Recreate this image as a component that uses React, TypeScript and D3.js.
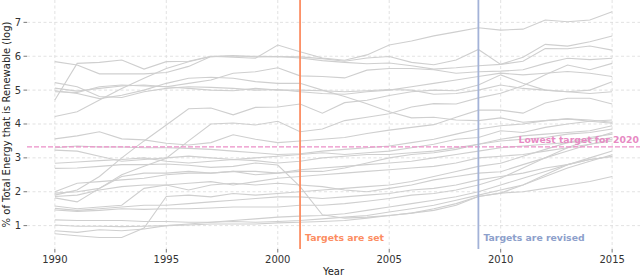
import * as d3 from "d3";

const years = [
  1990, 1991, 1992, 1993, 1994, 1995, 1996, 1997, 1998, 1999, 2000, 2001, 2002,
  2003, 2004, 2005, 2006, 2007, 2008, 2009, 2010, 2011, 2012, 2013, 2014, 2015,
];

// log2 of renewable share, one array per country, 1990..2015
const s01 = [4.71, 5.79, 5.82, 5.89, 5.62, 5.84, 5.85, 6.0, 5.97, 5.94, 6.33, 6.13, 5.95, 5.88, 6.04, 6.33, 6.45, 6.6, 6.72, 6.84, 6.77, 6.8, 7.07, 7.02, 7.07, 7.31];
const s02 = [5.84, 5.74, 5.48, 5.48, 5.48, 5.52, 5.7, 5.99, 6.0, 6.0, 5.99, 5.98, 5.93, 5.85, 5.95, 5.99, 5.82, 5.75, 5.89, 6.2, 5.76, 5.97, 6.35, 6.3, 6.43, 6.6];
const s03 = [4.22, 4.36, 4.71, 5.05, 5.35, 5.64, 5.84, 5.99, 6.02, 5.98, 5.99, 5.95, 5.87, 5.82, 5.78, 5.8, 5.72, 5.62, 5.66, 5.72, 5.76, 5.85, 6.23, 6.22, 6.3, 6.18];
const s04 = [5.22, 5.1, 4.81, 4.78, 4.95, 5.05, 5.1, 5.08, 5.05, 5.0, 5.02, 4.95, 4.9, 4.88, 4.95, 5.0, 5.1, 5.2, 5.3, 5.4, 5.5, 5.45, 5.5, 5.55, 5.5, 5.4];
const s05 = [5.06, 4.97, 5.05, 5.12, 5.15, 5.1, 5.05, 5.0, 4.98, 5.05, 5.0, 5.0, 4.98, 4.95, 4.98, 5.02, 5.0, 4.88, 4.9, 5.0, 5.15, 5.05, 5.0, 4.95, 4.9, 4.95];
const s06 = [4.95, 4.93, 5.1, 5.15, 5.12, 5.1, 5.2, 5.3, 5.5, 5.54, 5.66, 5.42, 5.4, 5.36, 5.59, 5.64, 5.64, 5.6, 5.5, 5.54, 5.56, 5.6, 5.79, 5.94, 5.9, 5.94];
const s07 = [4.98, 4.9, 4.75, 4.85, 5.0, 5.2, 5.35, 5.38, 5.35, 5.25, 5.2, 5.2, 5.0, 4.81, 4.6, 4.36, 4.18, 4.2, 4.12, 4.1, 4.18, 4.05, 4.1, 4.15, 4.08, 4.02];
const s08 = [1.9, 2.05, 2.45, 3.0, 3.5, 3.97, 4.45, 4.47, 4.27, 4.49, 4.5, 4.59, 4.32, 4.63, 4.7, 4.84, 4.95, 5.0, 4.98, 5.15, 5.45, 5.2, 5.0, 4.95, 5.0, 5.25];
const s09 = [1.82, 1.7, 2.1, 2.5, 2.75, 2.99, 3.5, 4.0, 4.03, 3.97, 4.08, 3.77, 3.85, 4.1, 4.2, 4.3, 4.5, 4.6, 4.59, 4.77, 4.91, 5.13, 5.45, 5.74, 5.6, 5.79];
const s10 = [3.56, 3.65, 3.77, 3.56, 3.53, 3.43, 3.38, 3.45, 3.68, 3.55, 3.45, 3.5, 3.55, 3.6, 3.72, 3.82, 3.9, 3.98, 4.2, 4.41, 4.41, 4.32, 4.62, 4.76, 4.76, 4.59];
const s11 = [3.3, 3.35, 3.32, 3.32, 3.3, 3.3, 3.28, 3.25, 3.2, 3.15, 3.1, 3.12, 3.2, 3.25, 3.3, 3.35, 3.45, 3.55, 3.7, 3.85, 3.95, 4.0, 4.1, 4.15, 4.12, 4.05];
const s12 = [3.23, 3.2, 3.05, 2.9, 2.95, 3.0, 3.05, 3.0, 2.95, 3.0, 3.05, 3.1, 3.15, 3.1, 3.15, 3.2, 3.3, 3.4, 3.55, 3.6, 3.8, 3.75, 3.9, 4.0, 4.08, 4.12];
const s13 = [2.84, 2.88, 2.92, 2.95, 3.0, 2.9, 2.85, 2.9, 2.95, 2.92, 2.85, 2.9, 3.0, 3.05, 3.1, 3.1, 3.15, 3.2, 3.3, 3.4, 3.5, 3.55, 3.6, 3.7, 3.75, 3.85];
const s14 = [2.69, 2.7, 2.75, 2.8, 2.8, 2.82, 2.78, 2.72, 2.75, 2.85, 2.79, 2.15, 1.32, 1.22, 1.25, 1.3, 1.37, 1.5, 1.65, 1.86, 1.96, 2.0, 2.1, 2.2, 2.3, 2.45];
const s15 = [2.0, 2.25, 2.3, 2.35, 2.4, 2.5, 2.55, 2.55, 2.6, 2.6, 2.55, 2.65, 2.7, 2.75, 2.8, 2.85, 2.9, 3.0, 3.1, 3.2, 3.3, 3.35, 3.4, 3.45, 3.5, 3.6];
const s16 = [1.96, 2.0, 2.1, 2.45, 2.55, 2.55, 2.6, 2.55, 2.6, 2.5, 2.55, 2.6, 2.6, 2.7, 2.85, 3.0, 3.1, 3.15, 3.25, 3.4, 3.55, 3.65, 3.7, 3.75, 3.8, 3.95];
const s17 = [1.86, 1.9, 2.05, 2.15, 2.2, 2.2, 2.25, 2.3, 2.2, 2.3, 2.4, 2.45, 2.5, 2.55, 2.6, 2.65, 2.7, 2.75, 2.85, 3.0, 3.05, 3.1, 3.2, 3.3, 3.4, 3.5];
const s18 = [1.58, 1.5, 1.55, 1.6, 2.1, 2.2, 2.05, 2.2, 2.25, 2.2, 2.25, 2.2, 2.15, 2.05, 2.0, 2.1, 2.2, 2.35, 2.45, 2.55, 2.59, 2.8, 3.0, 3.2, 3.4, 3.55];
const s19 = [1.51, 1.45, 1.5, 1.55, 1.6, 1.6, 1.65, 1.7, 1.75, 1.8, 1.85, 1.85, 1.8, 1.85, 1.9, 1.95, 2.05, 2.1, 2.2, 2.35, 2.45, 2.55, 2.7, 2.8, 2.95, 3.04];
const s20 = [1.46, 1.42, 1.45, 1.5, 1.48, 1.5, 1.5, 1.52, 1.55, 1.55, 1.55, 1.6, 1.6, 1.65, 1.72, 1.8, 1.9, 1.95, 2.05, 2.2, 2.4, 2.7, 3.0, 3.3, 3.55, 3.75];
const s21 = [1.17, 1.15, 1.15, 1.15, 1.12, 1.12, 1.1, 1.1, 1.12, 1.1, 1.12, 1.15, 1.2, 1.25, 1.3, 1.4, 1.5, 1.6, 1.75, 1.9, 2.05, 2.2, 2.45, 2.7, 2.9, 3.09];
const s22 = [1.02, 0.98, 0.98, 0.97, 0.98, 1.0, 1.02, 1.05, 1.05, 1.05, 1.08, 1.1, 1.12, 1.15, 1.22, 1.3, 1.37, 1.45, 1.6, 1.86, 1.96, 2.2, 2.5, 2.8, 3.0, 3.2];
const s23 = [0.85, 0.8, 0.88, 0.85, 0.9, 1.0, 1.05, 1.1, 1.15, 1.2, 1.25, 1.28, 1.3, 1.35, 1.45, 1.55, 1.65, 1.75, 1.85, 2.0, 2.2, 2.4, 2.6, 2.8, 2.95, 3.04];
const s24 = [0.76, 0.7, 0.65, 0.65, 0.93, 1.86, 1.9, 1.85, 1.95, 1.9, 1.95, 2.0, 2.05, 2.1, 2.15, 2.2, 2.3, 2.45, 2.6, 2.75, 2.84, 3.05, 3.25, 3.45, 3.6, 3.7];

const seriesList = [s01, s02, s03, s04, s05, s06, s07, s08, s09, s10, s11, s12, s13, s14, s15, s16, s17, s18, s19, s20, s21, s22, s23, s24];

const xTicks = [1990, 1995, 2000, 2005, 2010, 2015];
const yTicks = [1, 2, 3, 4, 5, 6, 7];

const targetsSetYear = 2001;
const targetsRevisedYear = 2009;
const lowestTarget2020 = Math.log2(10);

export default function App() {
  const width = 640;
  const height = 276;
  const margin = { top: 0, right: 0, bottom: 27, left: 27 };
  const font = "DejaVu Sans, sans-serif";

  const x = d3
    .scaleLinear()
    .domain([1988.75, 2016.25])
    .range([margin.left, width - margin.right]);
  const y = d3
    .scaleLinear()
    .domain([0.31, 7.66])
    .range([height - margin.bottom, margin.top]);

  const line = d3
    .line<number>()
    .x((_, i) => x(years[i]))
    .y((d) => y(d));

  const bottom = height - margin.bottom;

  return (
    <svg
      width={width}
      height={height}
      style={{ position: "absolute", left: 0, top: 0, background: "#fff" }}
      fontFamily={font}
    >
      {/* grid */}
      <g stroke="#dadada" strokeWidth={0.8} strokeDasharray="3,2.5">
        {yTicks.map((t) => (
          <line key={"gy" + t} x1={margin.left} x2={width} y1={y(t)} y2={y(t)} />
        ))}
        {xTicks.map((t) => (
          <line key={"gx" + t} x1={x(t)} x2={x(t)} y1={margin.top} y2={bottom} />
        ))}
      </g>

      {/* country lines */}
      <g fill="none" stroke="#cfcfcf" strokeWidth={1.1}>
        {seriesList.map((s, i) => (
          <path key={i} d={line(s) || ""} />
        ))}
      </g>

      {/* reference lines */}
      <line
        x1={margin.left}
        x2={width}
        y1={y(lowestTarget2020)}
        y2={y(lowestTarget2020)}
        stroke="#ec8fc8"
        strokeWidth={1.2}
        strokeDasharray="5,2"
      />
      <line
        x1={x(targetsSetYear)}
        x2={x(targetsSetYear)}
        y1={margin.top}
        y2={bottom}
        stroke="#fc8d62"
        strokeWidth={1.8}
      />
      <line
        x1={x(targetsRevisedYear)}
        x2={x(targetsRevisedYear)}
        y1={margin.top}
        y2={bottom}
        stroke="#a3b2d8"
        strokeWidth={1.8}
      />
      <text x={x(targetsSetYear) + 5} y={bottom - 8} fill="#fc8d62" fontSize={9.3} fontWeight="bold">
        Targets are set
      </text>
      <text x={x(targetsRevisedYear) + 5} y={bottom - 8} fill="#8da0cb" fontSize={9.3} fontWeight="bold">
        Targets are revised
      </text>
      <text
        x={width - 1}
        y={y(lowestTarget2020) - 4}
        textAnchor="end"
        fill="#e78ac3"
        fontSize={9.3}
        fontWeight="bold"
      >
        Lowest target for 2020
      </text>

      {/* y axis */}
      {yTicks.map((t) => (
        <g key={"ty" + t}>
          <line x1={margin.left - 3.5} x2={margin.left} y1={y(t)} y2={y(t)} stroke="#555" strokeWidth={0.8} />
          <text x={margin.left - 6} y={y(t)} dy="0.35em" textAnchor="end" fontSize={10} fill="#333">
            {t}
          </text>
        </g>
      ))}
      <text
        transform={`translate(10,${(margin.top + bottom) / 2}) rotate(-90)`}
        textAnchor="middle"
        fontSize={10}
        fill="#222"
      >
        % of Total Energy that is Renewable (log)
      </text>

      {/* x axis */}
      {xTicks.map((t) => (
        <g key={"tx" + t}>
          <line x1={x(t)} x2={x(t)} y1={bottom} y2={bottom + 3.5} stroke="#555" strokeWidth={0.8} />
          <text x={x(t)} y={bottom + 14} textAnchor="middle" fontSize={10} fill="#333">
            {t}
          </text>
        </g>
      ))}
      <text x={(margin.left + width) / 2} y={height - 1} textAnchor="middle" fontSize={10} fill="#222">
        Year
      </text>
    </svg>
  );
}
